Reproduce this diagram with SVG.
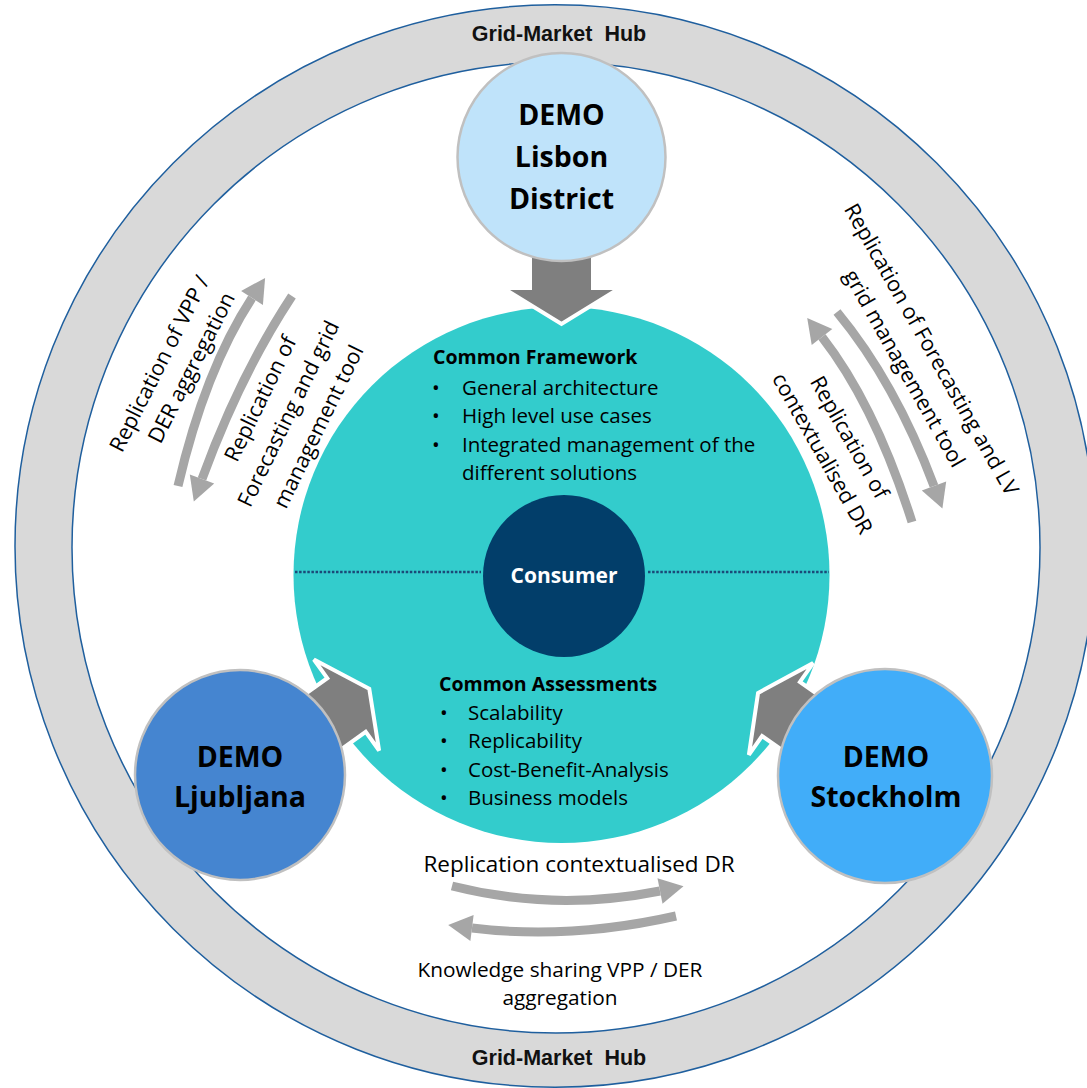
<svg xmlns="http://www.w3.org/2000/svg" width="1087" height="1088" viewBox="0 0 1087 1088">
<style>
.t{font-family:"Open Sans","Noto Sans",sans-serif;fill:#000}
.b{font-weight:bold}
.hub{font-family:"Liberation Sans",Arial,sans-serif;font-weight:bold;font-size:21.5px;fill:#111}
.lbl{font-size:21.5px}
.bul{font-size:20.5px}
.demo{font-size:28.5px;font-weight:bold}
.big{fill:#7f7f7f;stroke:#fff;stroke-width:4;stroke-linejoin:miter}
.cv{fill:none;stroke:#a6a6a6;stroke-width:9}
.cvh{fill:#a6a6a6}
.dc{stroke:#c0c0c0;stroke-width:2.5}
.dot{stroke:#1b4a78;stroke-width:2.5;stroke-dasharray:2.5 1.6}
</style>
<rect width="1087" height="1088" fill="#fff"/>
<g id="grid-market-hub">
<path d="M15,546 A540,541 0 1,0 1095,546 A540,541 0 1,0 15,546 Z M72,547.5 A484,485.5 0 1,1 1040,547.5 A484,485.5 0 1,1 72,547.5 Z" fill="#d9d9d9" fill-rule="evenodd" stroke="#1f5f9e" stroke-width="1.5"/>
<text class="hub" x="559" y="41" text-anchor="middle" xml:space="preserve">Grid-Market  Hub</text>
<text class="hub" x="559" y="1065" text-anchor="middle" xml:space="preserve">Grid-Market  Hub</text>
</g>
<g id="common">
<circle cx="561.5" cy="575" r="268" fill="#33cccc"/>
<line class="dot" x1="295" y1="572" x2="481" y2="572"/>
<line class="dot" x1="648" y1="572" x2="829" y2="572"/>
<text class="t b" x="433" y="364" font-size="19.5">Common Framework</text>
<text class="t bul"><tspan x="432" y="395">•</tspan><tspan x="462" y="395">General architecture</tspan></text>
<text class="t bul"><tspan x="432" y="423">•</tspan><tspan x="462" y="423">High level use cases</tspan></text>
<text class="t bul"><tspan x="432" y="452">•</tspan><tspan x="462" y="452">Integrated management of the</tspan></text>
<text class="t bul"><tspan x="462" y="480">different solutions</tspan></text>
<text class="t b" x="439" y="691" font-size="19.5">Common Assessments</text>
<text class="t bul"><tspan x="440" y="720">•</tspan><tspan x="468" y="720">Scalability</tspan></text>
<text class="t bul"><tspan x="440" y="748">•</tspan><tspan x="468" y="748">Replicability</tspan></text>
<text class="t bul"><tspan x="440" y="777">•</tspan><tspan x="468" y="777">Cost-Benefit-Analysis</tspan></text>
<text class="t bul"><tspan x="440" y="805">•</tspan><tspan x="468" y="805">Business models</tspan></text>
</g>
<g id="consumer">
<circle cx="564" cy="576" r="81" fill="#023e6a"/>
<text class="t b" x="564" y="583" font-size="21" text-anchor="middle" style="fill:#fff">Consumer</text>
</g>
<g id="connectors">
<polygon class="big" points="530,240 530,288 503,288 561.5,324 620,288 593,288 593,240"/>
<polygon class="big" transform="translate(346.5,705) rotate(-35.6)" points="-80,-33 0,-33 0,-56 28,0 0,56 0,33 -80,33"/>
<polygon class="big" transform="translate(781,709) rotate(-145)" points="-80,-33 0,-33 0,-56 28,0 0,56 0,33 -80,33"/>
<path class="cv" d="M178,486 Q205,370 252,298"/>
<polygon class="cvh" points="265.1,277.9 262.9,305.1 241.1,290.9"/>
<path class="cv" d="M292,296 Q240,375 202,479"/>
<polygon class="cvh" points="193.8,501.5 214.2,483.5 189.8,474.5"/>
<path class="cv" d="M912,522 Q875,405 822,337"/>
<polygon class="cvh" points="807.2,318.1 832.3,329 811.7,345"/>
<path class="cv" d="M837,312 Q895,382 934,486"/>
<polygon class="cvh" points="942.4,508.5 946.2,481.4 921.8,490.6"/>
<path class="cv" d="M452,886 Q555,912 660,891"/>
<polygon class="cvh" points="683.5,886.3 662.5,903.8 657.5,878.2"/>
<path class="cv" d="M676,916 Q570,940 472,928"/>
<polygon class="cvh" points="448.2,925.1 473.6,915.1 470.4,940.9"/>
<text class="t lbl" text-anchor="middle" transform="translate(166,367) rotate(-63)">Replication of VPP /</text>
<text class="t lbl" text-anchor="middle" transform="translate(198,371) rotate(-63)">DER aggregation</text>
<text class="t lbl" text-anchor="middle" transform="translate(267,402) rotate(-64)">Replication of</text>
<text class="t lbl" text-anchor="middle" transform="translate(295,417) rotate(-64)">Forecasting and grid</text>
<text class="t lbl" text-anchor="middle" transform="translate(325,430) rotate(-64)">management tool</text>
<text class="t lbl" text-anchor="middle" transform="translate(925,353) rotate(60.5)">Replication of Forecasting and LV</text>
<text class="t lbl" text-anchor="middle" transform="translate(898,372) rotate(60.5)">grid management tool</text>
<text class="t lbl" text-anchor="middle" transform="translate(843,441) rotate(60.5)">Replication of</text>
<text class="t lbl" text-anchor="middle" transform="translate(816,457) rotate(60.5)">contextualised DR</text>
<text class="t" x="579" y="872" font-size="22.5" text-anchor="middle">Replication contextualised DR</text>
<text class="t" x="560" y="977" font-size="20.8" text-anchor="middle">Knowledge sharing VPP / DER</text>
<text class="t" x="560" y="1005" font-size="20.8" text-anchor="middle">aggregation</text>
</g>
<g id="demo-lisbon">
<circle class="dc" cx="561.5" cy="157" r="104" fill="#bfe3fa"/>
<text class="t demo" x="561.5" y="125" text-anchor="middle">DEMO</text>
<text class="t demo" x="561.5" y="167" text-anchor="middle">Lisbon</text>
<text class="t demo" x="561.5" y="209" text-anchor="middle">District</text>
</g>
<g id="demo-ljubljana">
<circle class="dc" cx="240" cy="775" r="105" fill="#4585d0"/>
<text class="t demo" x="240" y="767" text-anchor="middle">DEMO</text>
<text class="t demo" x="240" y="807" text-anchor="middle">Ljubljana</text>
</g>
<g id="demo-stockholm">
<circle class="dc" cx="885" cy="776" r="107" fill="#41adf9"/>
<text class="t demo" x="886" y="767" text-anchor="middle">DEMO</text>
<text class="t demo" x="886" y="807" text-anchor="middle">Stockholm</text>
</g>
</svg>
